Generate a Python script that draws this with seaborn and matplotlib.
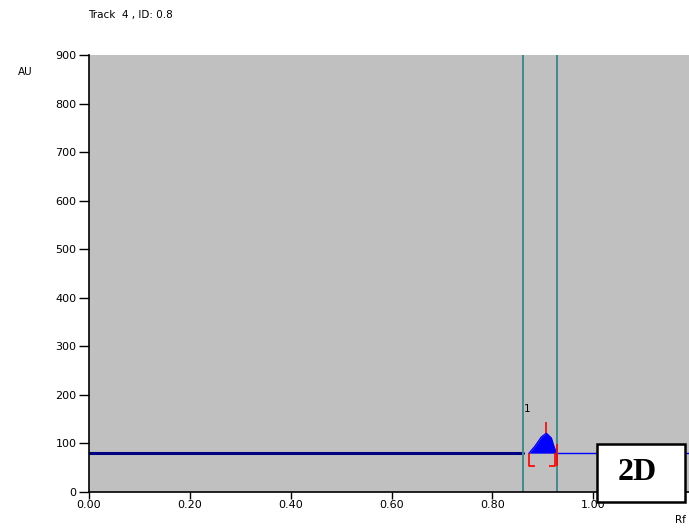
import matplotlib
matplotlib.use("Agg")
import matplotlib.pyplot as plt
import seaborn as sns
import pandas as pd
from matplotlib.patches import Rectangle

# Data
base_rf = [0.0, 0.86]
base_au = [80, 80]
peak_rf = [0.873, 0.885, 0.897, 0.907, 0.917, 0.921, 0.927]
peak_au = [80, 95, 113, 121, 111, 97, 80]
tail_rf = [0.927, 1.19]
tail_au = [80, 80]
window_rf = [0.861, 0.929]
apex_rf = 0.906
apex_top = 144
peak_label = "1"
xticks = [0.0, 0.2, 0.4, 0.6, 0.8, 1.0]
xticklabels = ["0.00", "0.20", "0.40", "0.60", "0.80", "1.00"]
yticks = [0, 100, 200, 300, 400, 500, 600, 700, 800, 900]

sns.set_style("ticks")
plt.rcParams['font.family'] = ['DejaVu Sans']
plt.rcParams.update({"text.color": "black", "xtick.color": "black",
                     "ytick.color": "black", "axes.labelcolor": "black"})

fig = plt.figure(figsize=(6.89, 5.29), dpi=100)
ax = fig.add_axes([89/689, 37/529, 600/689, 437/529])
ax.set_facecolor("#c0c0c0")

base_df = pd.DataFrame({"rf": base_rf, "au": base_au})
tail_df = pd.DataFrame({"rf": tail_rf, "au": tail_au})
peak_df = pd.DataFrame({"rf": peak_rf, "au": peak_au})

sns.lineplot(data=base_df, x="rf", y="au", ax=ax, color="#000080", lw=2.2)
sns.lineplot(data=tail_df, x="rf", y="au", ax=ax, color="#0000ff", lw=1.0)
sns.lineplot(data=peak_df, x="rf", y="au", ax=ax, color="#0000ff", lw=1.0)
ax.fill_between(peak_rf, peak_au, base_au[0], color="#0000ff", lw=0)

for xv in window_rf:
    ax.axvline(xv, color="#3f8c8c", lw=1.4)

# red integration brackets
red = "#ff0000"
lo = 53
kw = dict(color=red, lw=1.2, zorder=5, solid_capstyle="butt")
ax.plot([peak_rf[0], peak_rf[0], peak_rf[0] + 0.012], [80, lo, lo], **kw)
ax.plot([peak_rf[-1] - 0.015, peak_rf[-1] - 0.003, peak_rf[-1] - 0.003], [lo, lo, 80], **kw)
ax.plot([window_rf[1] - 0.001] * 2, [lo, 98], **kw)
ax.plot([apex_rf, apex_rf], [121, apex_top], **kw)
ax.text(window_rf[0] + 0.001, 160, peak_label, fontsize=7.5, ha="left", va="bottom")

ax.set_xlim(0, 1.19)
ax.set_ylim(0, 900)
ax.set_xticks(xticks)
ax.set_xticklabels(xticklabels)
ax.set_yticks(yticks)
ax.tick_params(axis="x", length=5, width=1, labelsize=8, pad=1, colors="black")
ax.tick_params(axis="y", length=7, width=1, labelsize=8, pad=2, colors="black")
ax.set_xlabel("")
ax.set_ylabel("")
for s in ["top", "right"]:
    ax.spines[s].set_visible(False)
for s in ["left", "bottom"]:
    ax.spines[s].set_linewidth(1.2)
    ax.spines[s].set_color("black")

fig.text(88/689, 1 - 15/529, "Track  4 , ID: 0.8", fontsize=7.5, ha="left", va="center")
fig.text(25/689, 1 - 72/529, "AU", fontsize=7.5, ha="center", va="center")
fig.text(680/689, 1 - 520/529, "Rf", fontsize=7.5, ha="center", va="center")

box = Rectangle((597/689, 27/529), 88/689, 58/529, transform=fig.transFigure,
                facecolor="white", edgecolor="black", lw=1.8, zorder=10)
fig.patches.append(box)
fig.text(637/689, 1 - 472/529, "2D", fontsize=23, fontweight="bold",
         family="Liberation Serif", ha="center", va="center", zorder=11, color="black")

fig.savefig("out.png", dpi=100)
